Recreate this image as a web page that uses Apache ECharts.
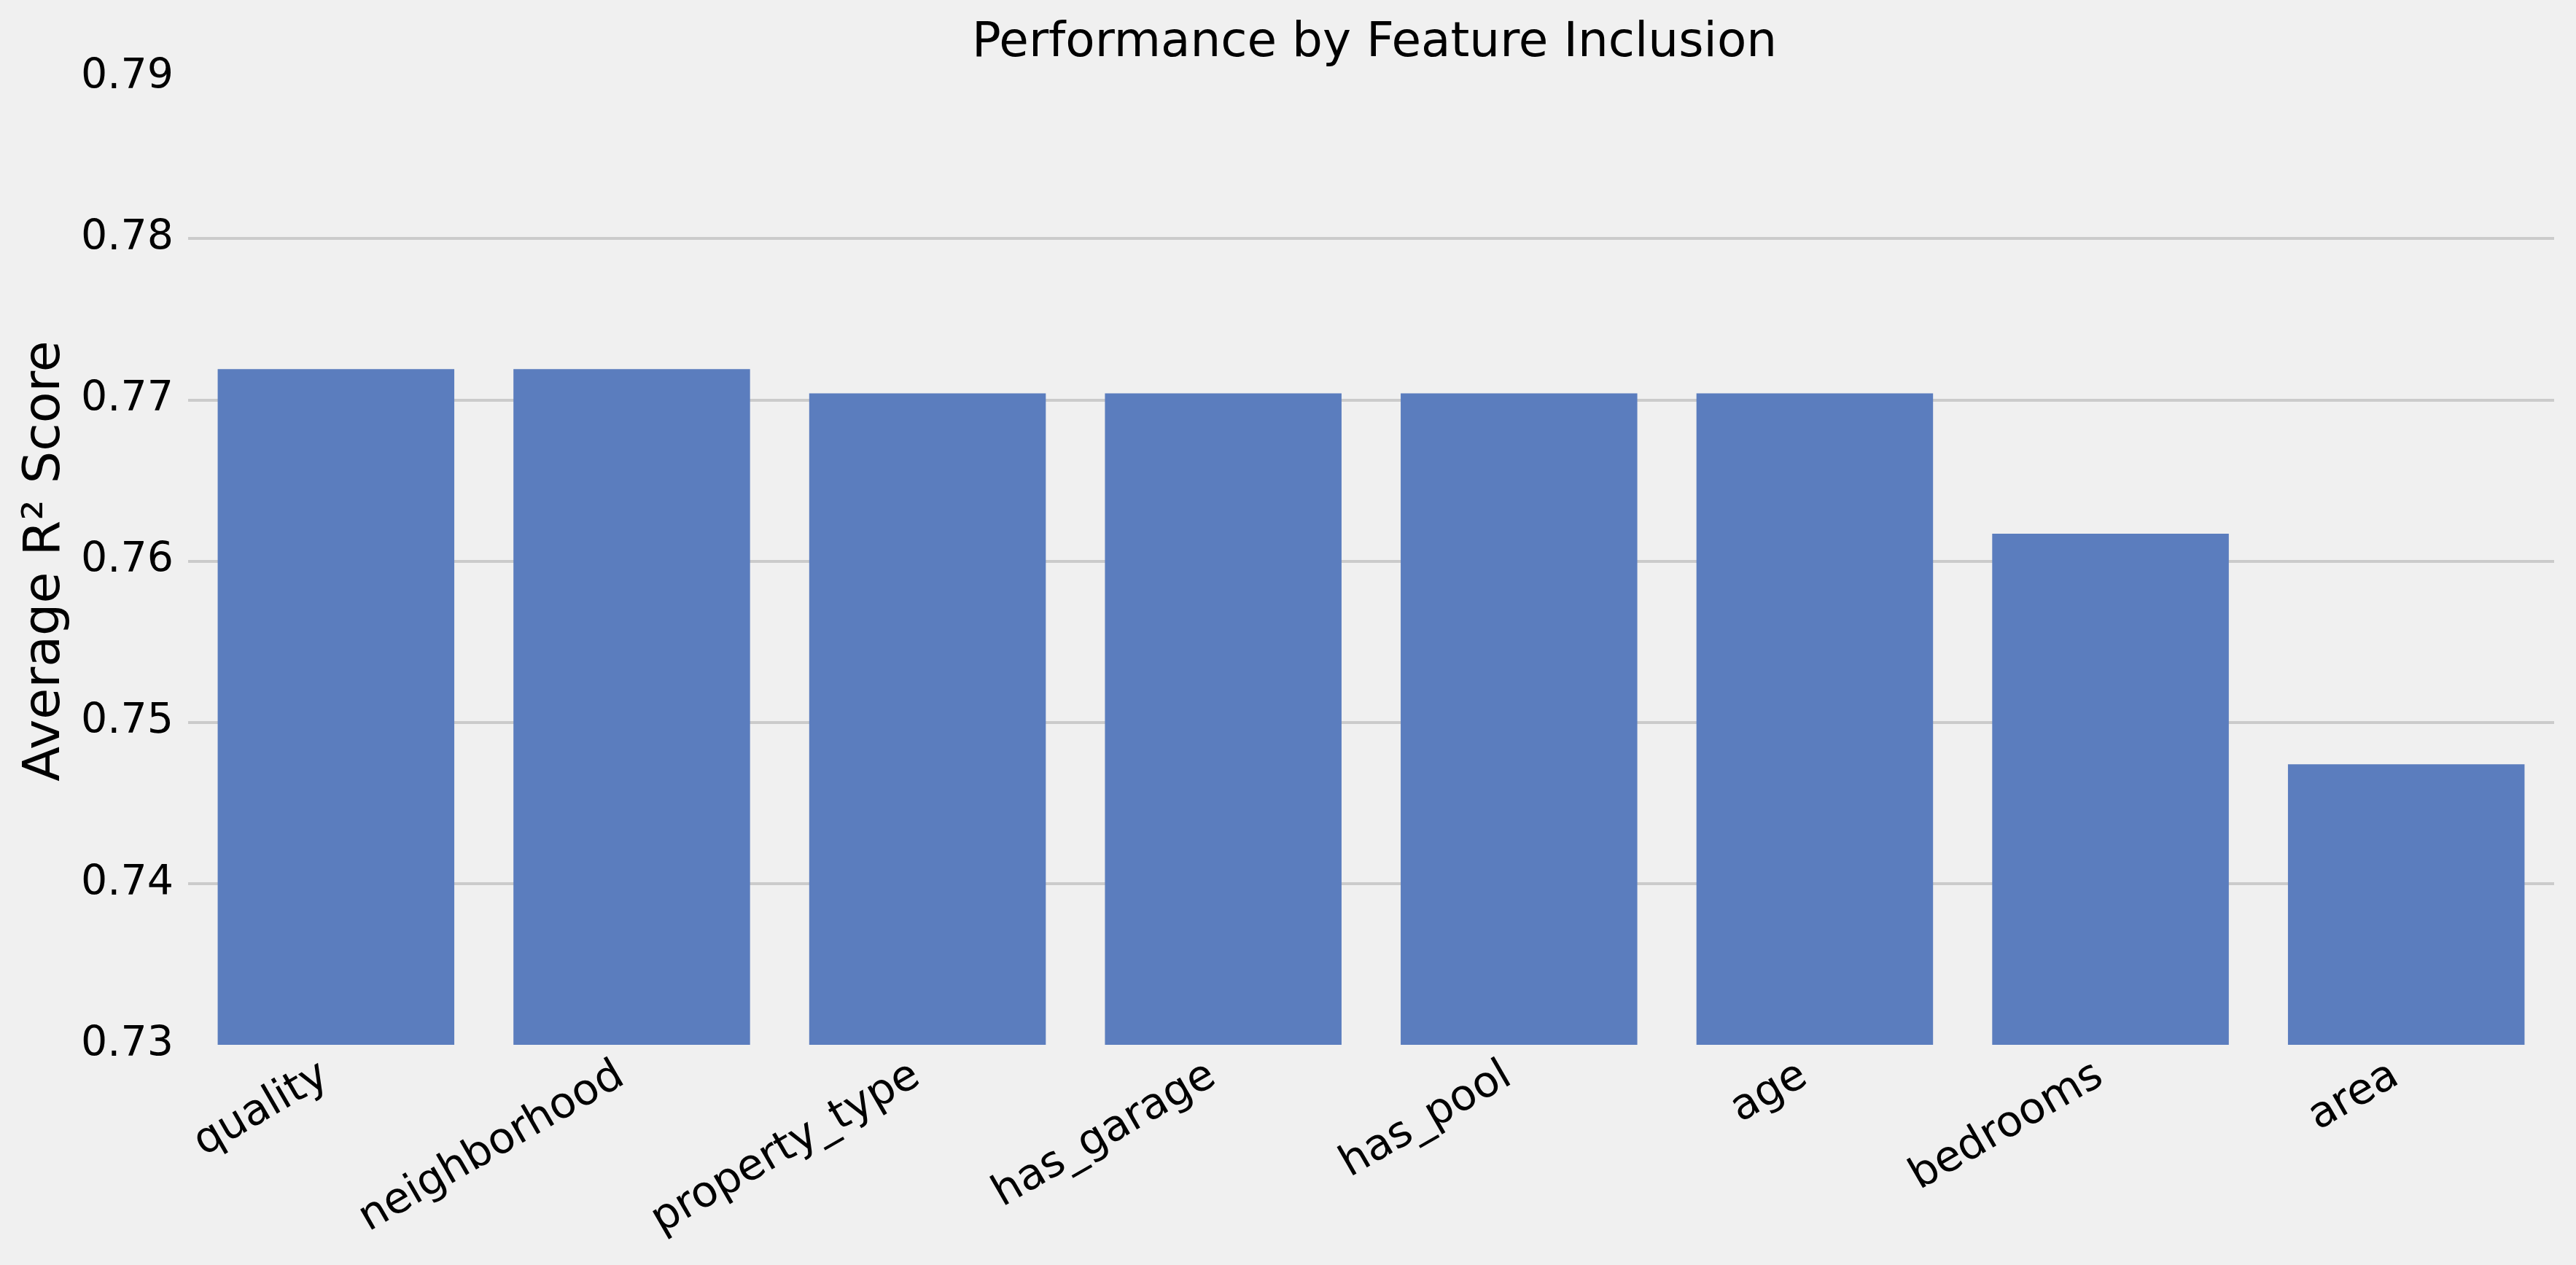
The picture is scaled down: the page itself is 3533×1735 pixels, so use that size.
<!DOCTYPE html>
<html>
<head>
<meta charset="utf-8">
<script src="https://cdn.jsdelivr.net/npm/echarts@6/dist/echarts.min.js"></script>
<style>
html,body{margin:0;padding:0;background:#f0f0f0;}
#chart{width:3533px;height:1735px;}
</style>
</head>
<body>
<div id="chart"></div>
<script>
const categories = ['quality','neighborhood','property_type','has_garage','has_pool','age','bedrooms','area'];
const scores = [0.7719, 0.7719, 0.7704, 0.7704, 0.7704, 0.7704, 0.7617, 0.7474];
const yTicks = [0.73, 0.74, 0.75, 0.76, 0.77, 0.78, 0.79];

const chart = echarts.init(document.getElementById('chart'), null, {renderer:'canvas'});
const font = 'DejaVu Sans';
chart.setOption({
  backgroundColor: '#f0f0f0',
  animation: false,
  title: {
    text: 'Performance by Feature Inclusion',
    left: 1880,
    textAlign: 'center',
    top: 22,
    textStyle: {fontFamily: font, fontSize: 66, fontWeight: 'normal', color: '#000'}
  },
  grid: {left: 258, right: 30, top: 106, bottom: 302, containLabel: false},
  xAxis: {
    type: 'category',
    data: categories,
    axisLine: {show: false},
    axisTick: {show: false},
    splitLine: {show: false},
    axisLabel: {
      rotate: 30,
      interval: 0,
      margin: 30,
      padding: [0, 17, 0, 0],
      fontFamily: font,
      fontSize: 59,
      color: '#000'
    }
  },
  yAxis: {
    type: 'value',
    min: yTicks[0],
    max: yTicks[yTicks.length - 1],
    interval: 0.01,
    name: 'Average R² Score',
    nameLocation: 'middle',
    nameGap: 160,
    nameTextStyle: {fontFamily: font, fontSize: 70, color: '#000'},
    axisLine: {show: false},
    axisTick: {show: false},
    axisLabel: {
      margin: 20,
      fontFamily: font,
      fontSize: 57,
      color: '#000',
      formatter: v => v.toFixed(2)
    },
    splitLine: {show: true, showMinLine: false, showMaxLine: false, lineStyle: {color: '#cbcbcb', width: 4}}
  },
  series: [{
    type: 'bar',
    data: scores,
    barCategoryGap: '20%',
    itemStyle: {color: '#5b7dbe'}
  }]
});
</script>
</body>
</html>
